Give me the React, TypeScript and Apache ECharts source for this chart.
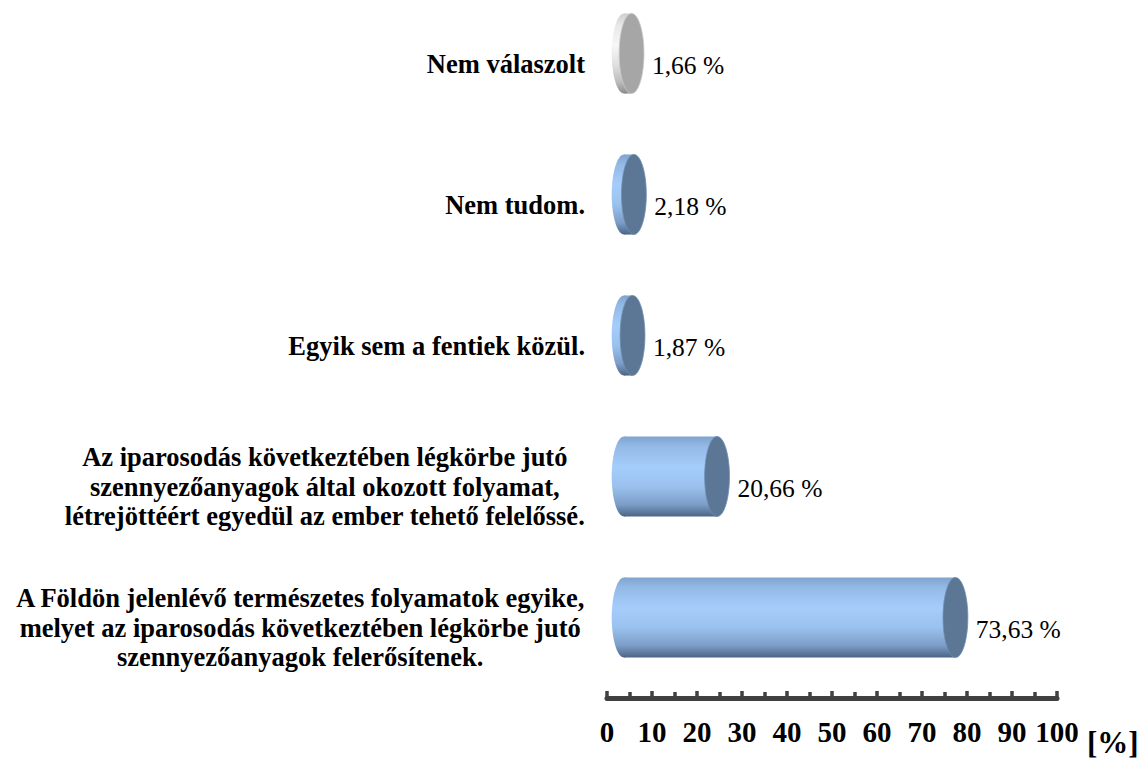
import React, { useEffect, useRef } from "react";
import * as echarts from "echarts";

const categories: string[] = [
  "Nem válaszolt",
  "Nem tudom.",
  "Egyik sem a fentiek közül.",
  "Az iparosodás következtében légkörbe jutó\nszennyezőanyagok által okozott folyamat,\nlétrejöttéért egyedül az ember tehető felelőssé.",
  "A Földön jelenlévő természetes folyamatok egyike,\nmelyet az iparosodás következtében légkörbe jutó\nszennyezőanyagok felerősítenek.",
];
const values: number[] = [1.66, 2.18, 1.87, 20.66, 73.63];
const noAnswerIndex = 0;
const axisMin = 0;
const axisMax = 100;
const axisInterval = 10;
const unitLabel = "[%]";

const FONT = "Liberation Serif, serif";

const blueBody = [
  { offset: 0, color: "#7fa3cd" },
  { offset: 0.12, color: "#93b9e6" },
  { offset: 0.38, color: "#a5cdfb" },
  { offset: 0.62, color: "#9bc2ef" },
  { offset: 0.85, color: "#7c9ec8" },
  { offset: 1, color: "#4c6484" },
];
const greyBody = [
  { offset: 0, color: "#cfcfcf" },
  { offset: 0.15, color: "#e8e8e8" },
  { offset: 0.4, color: "#f7f7f7" },
  { offset: 0.65, color: "#dedede" },
  { offset: 0.85, color: "#bdbdbd" },
  { offset: 1, color: "#8c8c8c" },
];

export default function App() {
  const ref = useRef<HTMLDivElement>(null);
  useEffect(() => {
    if (!ref.current) return;
    const chart = echarts.init(ref.current, undefined, { renderer: "svg" });
    const data = values.map((v, i) => [i, v]);
    chart.setOption({
      animation: false,
      backgroundColor: "#ffffff",
      grid: { left: 607, width: 450, top: 0, height: 705, containLabel: false },
      xAxis: [
        {
          type: "value",
          min: axisMin,
          max: axisMax,
          interval: axisInterval,
          position: "bottom",
          offset: 10,
          splitLine: { show: false },
          axisLine: { show: true, lineStyle: { color: "#404040", width: 5 } },
          axisTick: { show: true, inside: true, length: 7, lineStyle: { color: "#404040", width: 3.5 } },
          minorTick: { show: true, splitNumber: 2, length: 6, lineStyle: { color: "#404040", width: 3.5 } },
          axisLabel: {
            show: true,
            margin: 19,
            fontSize: 29,
            fontWeight: "bold",
            fontFamily: FONT,
            color: "#000",
          },
        },
        {
          type: "value",
          show: false,
          min: -3.8,
          max: 96.2,
          splitLine: { show: false },
        },
      ],
      yAxis: {
        type: "category",
        inverse: true,
        data: categories,
        axisLine: { show: false },
        axisTick: { show: false },
        splitLine: { show: false },
        axisLabel: {
          margin: 22,
          interval: 0,
          padding: [20, 0, 0, 0],
          formatter: (v: string) => v.split("\n").map((l) => `{c|${l}}`).join("\n"),
          rich: {
            c: {
              align: "center",
              fontSize: 26.5,
              fontWeight: "bold",
              fontFamily: FONT,
              color: "#000",
              lineHeight: 29.5,
            },
          },
        },
      },
      series: [
        {
          type: "custom",
          xAxisIndex: 1,
          yAxisIndex: 0,
          encode: { x: 1, y: 0 },
          data,
          renderItem: (params: any, api: any) => {
            const idx = api.value(0);
            const v = api.value(1);
            const p0 = api.coord([0, idx]);
            const p1 = api.coord([v, idx]);
            const band = api.size([0, 1])[1];
            const ry = band * 0.284;
            const rx = ry * 0.31;
            const cy = p0[1];
            const x0 = p0[0];
            const x1 = p1[0];
            const grey = idx === noAnswerIndex;
            const grad = new echarts.graphic.LinearGradient(0, 0, 0, 1, grey ? greyBody : blueBody);
            const capColor = grey ? "#a6a6a6" : "#5b7795";
            const label = v.toFixed(2).replace(".", ",") + " %";
            return {
              type: "group",
              children: [
                {
                  type: "ellipse",
                  shape: { cx: x0, cy, rx, ry },
                  style: { fill: grad },
                },
                {
                  type: "rect",
                  shape: { x: x0, y: cy - ry, width: Math.max(x1 - x0, 0), height: ry * 2 },
                  style: { fill: grad },
                },
                {
                  type: "ellipse",
                  shape: { cx: x1, cy, rx, ry },
                  style: { fill: capColor, stroke: grey ? "#c8c8c8" : "#6f8db0", lineWidth: 0.8 },
                },
                {
                  type: "text",
                  x: x1 + rx + 8,
                  y: cy + 12,
                  style: {
                    text: label,
                    fill: "#000",
                    fontSize: 25.5,
                    fontFamily: FONT,
                    verticalAlign: "middle",
                    align: "left",
                  },
                },
              ],
            };
          },
        },
      ],
      graphic: [
        {
          type: "text",
          left: 1087,
          top: 744,
          style: {
            text: unitLabel,
            fontSize: 31,
            fontWeight: "bold",
            fontFamily: FONT,
            fill: "#000",
          },
        },
      ],
    });
    return () => chart.dispose();
  }, []);
  return (
    <div
      ref={ref}
      style={{ position: "fixed", left: 0, top: -17, width: 1144, height: 777, background: "#fff" }}
    />
  );
}
